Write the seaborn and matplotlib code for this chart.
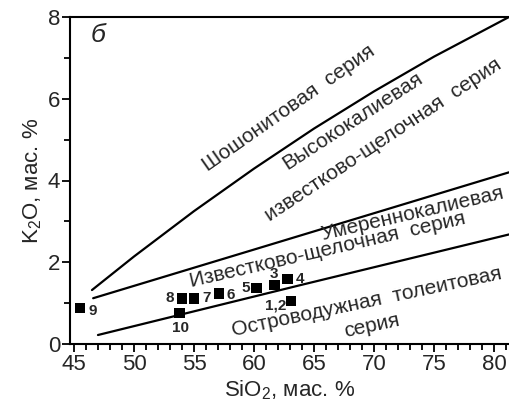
import seaborn as sns
import matplotlib.pyplot as plt
from matplotlib.ticker import MultipleLocator

# boundary lines (SiO2, K2O)
shosh_x = [46.5, 50, 55, 60, 65, 70, 75, 81.25]
shosh_y = [1.32, 2.14, 3.25, 4.29, 5.27, 6.18, 7.03, 8.0]
highk_x = [46.6, 60.0, 81.25]
highk_y = [1.12, 2.31, 4.2]
thol_x = [47.0, 64.0, 81.25]
thol_y = [0.22, 1.45, 2.68]

# samples
sample_labels = ['9', '8', '7', '6', '5', '3', '4', '1,2', '10']
sio2 = [45.5, 54.0, 55.0, 57.1, 60.2, 61.7, 62.8, 63.1, 53.8]
k2o = [0.88, 1.12, 1.12, 1.24, 1.37, 1.44, 1.59, 1.05, 0.76]
label_offsets = [(9, -2), (-9, 0), (9, 0), (8, -1), (-8, 0), (0, 8), (9, 0), (-11, -3), (1, -11)]

sns.set_style('ticks')
plt.rcParams['font.family'] = ['Liberation Sans', 'DejaVu Sans']
plt.rcParams['mathtext.fontset'] = 'custom'
plt.rcParams['mathtext.rm'] = 'Liberation Sans'

fig = plt.figure(figsize=(5.09, 4.03), dpi=100)
ax = fig.add_axes([70 / 509, 59 / 403, 439 / 509, 327 / 403])

for xs, ys in [(shosh_x, shosh_y), (highk_x, highk_y), (thol_x, thol_y)]:
    sns.lineplot(x=xs, y=ys, color='black', lw=1.6, sort=False, ax=ax)

sns.scatterplot(x=sio2, y=k2o, marker='s', s=58, color='black', edgecolor='none', ax=ax, zorder=3)
for lab, x, y, (dx, dy) in zip(sample_labels, sio2, k2o, label_offsets):
    ax.annotate(lab, (x, y), xytext=(dx, dy), textcoords='offset points',
                ha='center', va='center', fontsize=11, fontweight='bold')

txt = dict(ha='center', va='center', rotation_mode='anchor', fontsize=15)
ax.text(62.9, 5.78, 'Шошонитовая  серия', rotation=35, **txt)
ax.text(68.2, 5.45, 'Высококалиевая', rotation=33, **txt)
ax.text(70.75, 5.0, 'известково-щелочная  серия', rotation=33.5, **txt)
ax.text(73.25, 3.2, 'Умереннокалиевая', rotation=13, **txt)
ax.text(66.1, 2.3, 'Известково-щелочная  серия', rotation=13, **txt)
ax.text(69.4, 1.02, 'Островодужная  толеитовая', rotation=12, **txt)
ax.text(69.8, 0.44, 'серия', rotation=12, **txt)
ax.text(0.065, 0.945, 'б', transform=ax.transAxes, fontsize=19, style='italic', ha='center', va='center')

ax.set_xlim(44.67, 81.25)
ax.set_ylim(0, 8)
ax.xaxis.set_major_locator(MultipleLocator(5))
ax.xaxis.set_minor_locator(MultipleLocator(1))
ax.yaxis.set_major_locator(MultipleLocator(2))
ax.yaxis.set_minor_locator(MultipleLocator(1))
ax.tick_params(which='major', direction='out', length=6, width=1.3, labelsize=16, pad=1, color='black')
ax.tick_params(which='minor', direction='out', length=4.5, width=1.3, color='black')
for side in ['left', 'bottom', 'top']:
    ax.spines[side].set_linewidth(1.5)
    ax.spines[side].set_color('black')
ax.spines['right'].set_visible(False)

ax.set_xlabel('SiO$_2$, мас. %', fontsize=16, labelpad=3)
ax.set_ylabel('K$_2$O, мас. %', fontsize=16, labelpad=3)

fig.savefig('out.png', dpi=100)
